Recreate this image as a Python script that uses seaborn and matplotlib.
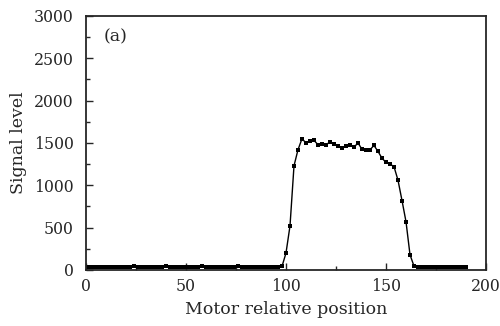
import numpy as np
import pandas as pd
import matplotlib.pyplot as plt
import seaborn as sns

# motor positions (every 2 steps) and measured signal
position = list(range(0, 192, 2))
baseline_left = [38, 36, 40, 35, 37, 39, 34, 36, 40, 38, 35, 37, 41, 39, 36, 38,
                 40, 37, 35, 38, 41, 39, 36, 37, 40, 38, 35, 37, 39, 41, 38, 36,
                 37, 40, 38, 35, 37, 39, 41, 38, 36, 38, 40, 37, 39, 38, 40, 37, 40, 42]
edge_and_top = [200, 520, 1230, 1420, 1550, 1500, 1520, 1530, 1480, 1490,
                1475, 1515, 1490, 1465, 1440, 1465, 1475, 1450, 1500, 1425,
                1420, 1420, 1470, 1400, 1320, 1270, 1250, 1220, 1060, 820,
                570, 180, 45]
baseline_right = [35, 32, 34, 31, 33, 35, 32, 30, 33, 34, 31, 32, 30]
signal = baseline_left + edge_and_top + baseline_right

df = pd.DataFrame({"position": position, "signal": signal})

sns.set_style("ticks")
plt.rcParams["font.family"] = ["DejaVu Serif"]

fig = plt.figure(figsize=(5, 3.26), dpi=100)
ax = fig.add_axes([0.172, 0.172, 0.8, 0.779])

sns.lineplot(data=df, x="position", y="signal", ax=ax, color="black",
             linewidth=1.0, marker="s", markersize=3.5, markeredgewidth=0)

ax.set_xlim(0, 200)
ax.set_ylim(0, 3000)
ax.set_xticks(range(0, 201, 50))
ax.set_xticks(range(0, 201, 25), minor=True)
ax.set_yticks(range(0, 3001, 500))
ax.set_yticks(range(0, 3001, 250), minor=True)
ax.tick_params(which="both", direction="in", width=1,
               labelsize=11.3, top=False, right=False)
ax.tick_params(which="major", length=5)
ax.tick_params(which="minor", length=3)
ax.tick_params(axis="y", pad=9)
ax.tick_params(axis="x", pad=6)
for s in ax.spines.values():
    s.set_linewidth(1.3)
    s.set_visible(True)

ax.set_xlabel("Motor relative position", fontsize=12.5, labelpad=4)
ax.set_ylabel("Signal level", fontsize=12.5, labelpad=5)
ax.text(0.045, 0.9, "(a)", transform=ax.transAxes, fontsize=12.5)

fig.savefig("out.png", dpi=100)
